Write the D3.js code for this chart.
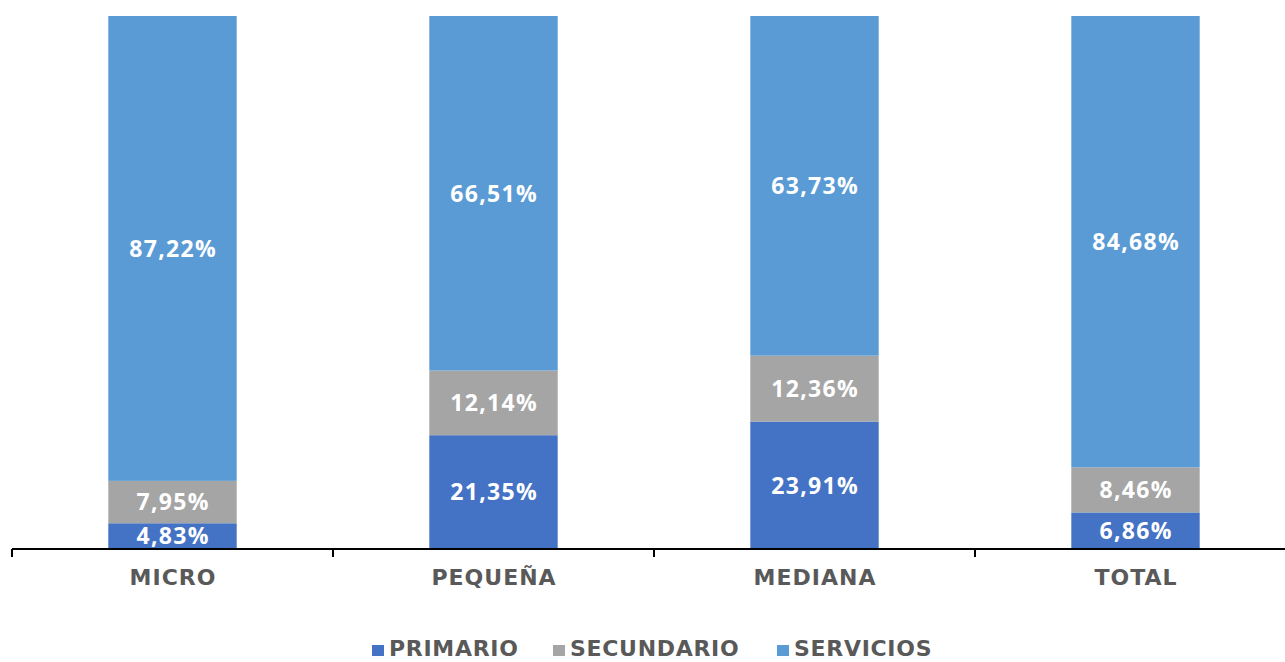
<!DOCTYPE html>
<html><head><meta charset="utf-8">
<script src="https://cdn.jsdelivr.net/npm/d3@7"></script>
<style>
html,body{margin:0;padding:0;background:#fff;}
svg{display:block;}
text{font-family:"Open Sans",sans-serif;}
.lab{font-family:"DejaVu Sans",sans-serif;}
</style></head>
<body><svg id="c" width="1285" height="662"></svg>
<script>
const categories = ["MICRO", "PEQUEÑA", "MEDIANA", "TOTAL"];
const seriesNames = ["PRIMARIO", "SECUNDARIO", "SERVICIOS"];
const primario = [4.83, 21.35, 23.91, 6.86];
const secundario = [7.95, 12.14, 12.36, 8.46];
const servicios = [87.22, 66.51, 63.73, 84.68];
const colors = ["#4472C4", "#A5A5A5", "#5B9BD5"];

const svg = d3.select("#c");
const rows = categories.map((c, i) => ({cat: c, PRIMARIO: primario[i], SECUNDARIO: secundario[i], SERVICIOS: servicios[i]}));
const stack = d3.stack().keys(seriesNames)(rows);

const x = d3.scaleBand().domain(categories).range([12, 1296]).paddingInner(0.6).paddingOuter(0.3);
const y = d3.scaleLinear().domain([0, 100]).range([549, 16]);

const fmt = v => d3.format(".2f")(v).replace(".", ",") + "%";

const valLS = 1.3;
stack.forEach((s, si) => {
  const g = svg.append("g");
  g.selectAll("rect").data(s).enter().append("rect")
    .attr("x", d => x(d.data.cat))
    .attr("width", x.bandwidth())
    .attr("y", d => y(d[1]))
    .attr("height", d => y(d[0]) - y(d[1]))
    .attr("fill", colors[si]);
  g.selectAll("text").data(s).enter().append("text")
    .attr("x", d => x(d.data.cat) + x.bandwidth() / 2 + valLS / 2)
    .attr("y", d => (y(d[0]) + y(d[1])) / 2)
    .attr("dy", "0.36em")
    .attr("text-anchor", "middle")
    .attr("fill", "#fff")
    .attr("font-size", 23)
    .attr("font-weight", 700)
    .attr("letter-spacing", valLS)
    .text(d => fmt(d[1] - d[0]));
});

// axis
const step = x.step();
const bounds = categories.map((c, i) => 12 + i * step).concat([12 + categories.length * step]);
const ax = svg.append("g");
ax.append("line").attr("x1", 12).attr("x2", 1296).attr("y1", 549).attr("y2", 549)
  .attr("stroke", "#000").attr("stroke-width", 2);
ax.selectAll("line.t").data(bounds).enter().append("line").attr("class", "t")
  .attr("x1", d => d).attr("x2", d => d).attr("y1", 549).attr("y2", 557)
  .attr("stroke", "#000").attr("stroke-width", 2);
const catLS = 1;
ax.selectAll("text").data(categories).enter().append("text")
  .attr("class", "lab")
  .attr("x", d => x(d) + x.bandwidth() / 2 + catLS / 2)
  .attr("y", 585)
  .attr("text-anchor", "middle")
  .attr("fill", "#595959")
  .attr("font-size", 22)
  .attr("font-weight", 700)
  .attr("letter-spacing", catLS)
  .text(d => d);

// legend
const legX = [372, 553, 777];
const lg = svg.append("g");
seriesNames.forEach((n, i) => {
  lg.append("rect").attr("x", legX[i]).attr("y", 645).attr("width", 12).attr("height", 11).attr("fill", colors[i]);
  lg.append("text").attr("class", "lab").attr("x", legX[i] + 17).attr("y", 656)
    .attr("fill", "#595959").attr("font-size", 22).attr("font-weight", 700)
    .attr("letter-spacing", 0.7)
    .text(n);
});
</script></body></html>
